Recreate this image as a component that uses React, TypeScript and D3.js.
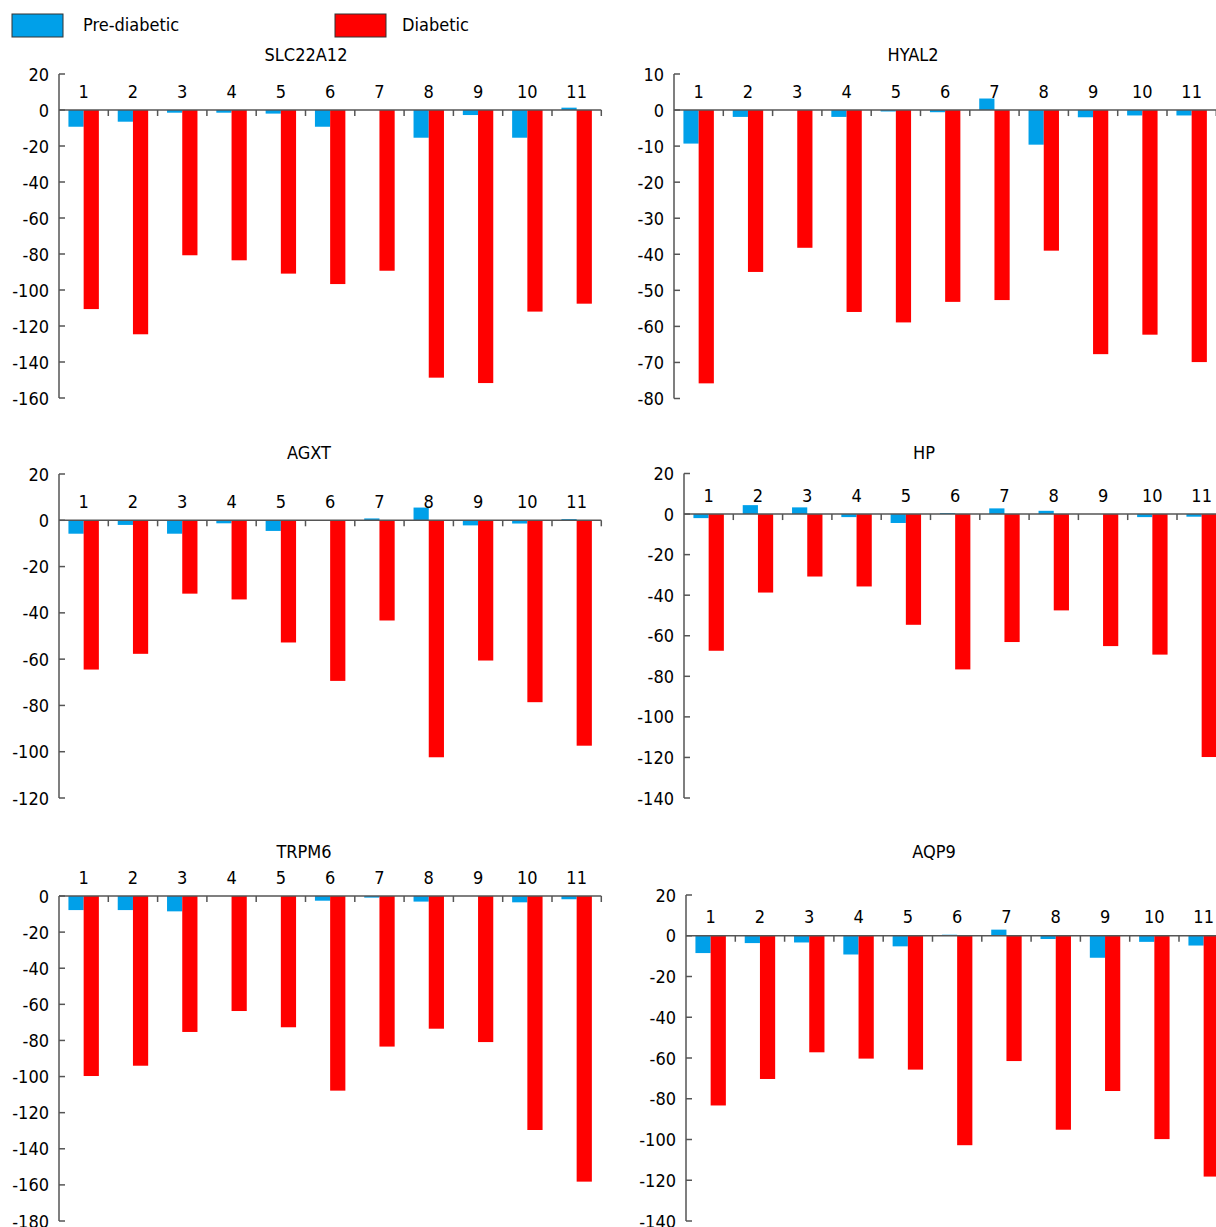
import React from 'react';
import * as d3 from 'd3';

const categories = ['1', '2', '3', '4', '5', '6', '7', '8', '9', '10', '11'];
const seriesNames = ['Pre-diabetic', 'Diabetic'];
const seriesColors = ['#00A0E9', '#FF0000'];

const slc22a12Pre = [-9.3, -6.5, -1.5, -1.5, -2, -9.3, 0, -15.4, -2.8, -15.4, 1.3];
const slc22a12Dia = [-110.6, -124.6, -80.7, -83.5, -90.9, -96.7, -89.3, -148.7, -151.7, -112, -107.6];
const slc22a12Ticks = [20, 0, -20, -40, -60, -80, -100, -120, -140, -160];

const hyal2Pre = [-9.3, -1.9, 0, -1.9, -0.4, -0.6, 3.2, -9.6, -2, -1.5, -1.5];
const hyal2Dia = [-75.8, -44.9, -38.2, -56, -58.9, -53.2, -52.7, -39, -67.7, -62.3, -69.9];
const hyal2Ticks = [10, 0, -10, -20, -30, -40, -50, -60, -70, -80];

const agxtPre = [-5.8, -2, -5.8, -1.3, -4.6, 0, 0.8, 5.5, -2.2, -1.4, 0.5];
const agxtDia = [-64.5, -57.7, -31.7, -34.2, -52.8, -69.4, -43.3, -102.4, -60.6, -78.6, -97.4];
const agxtTicks = [20, 0, -20, -40, -60, -80, -100, -120];

const hpPre = [-2, 4.4, 3.3, -1.5, -4.4, 0.5, 2.8, 1.6, 0, -1.5, -1.3];
const hpDia = [-67.4, -38.7, -30.8, -35.7, -54.6, -76.6, -63.1, -47.5, -65.1, -69.3, -119.8];
const hpTicks = [20, 0, -20, -40, -60, -80, -100, -120, -140];

const trpm6Pre = [-7.8, -7.8, -8.5, 0, 0, -2.6, -0.9, -3.1, 0, -3.5, -1.8];
const trpm6Dia = [-99.7, -94, -75.3, -63.7, -72.7, -107.8, -83.4, -73.5, -80.9, -129.6, -158.2];
const trpm6Ticks = [0, -20, -40, -60, -80, -100, -120, -140, -160, -180];

const aqp9Pre = [-8.5, -3.6, -3.3, -9.2, -5.2, 0.5, 3, -1.6, -10.8, -3, -4.8];
const aqp9Dia = [-83.3, -70.3, -57.2, -60.3, -65.7, -102.8, -61.5, -95.2, -76.2, -99.8, -118.2];
const aqp9Ticks = [20, 0, -20, -40, -60, -80, -100, -120, -140];

const panels = [
  { title: 'SLC22A12', pre: slc22a12Pre, dia: slc22a12Dia, ticks: slc22a12Ticks,
    layout: { axisX: 59, top: 74, bottom: 398, titleX: 306, titleY: 61 } },
  { title: 'HYAL2', pre: hyal2Pre, dia: hyal2Dia, ticks: hyal2Ticks,
    layout: { axisX: 674, top: 74, bottom: 398.5, titleX: 913, titleY: 61 } },
  { title: 'AGXT', pre: agxtPre, dia: agxtDia, ticks: agxtTicks,
    layout: { axisX: 59, top: 474, bottom: 798, titleX: 309, titleY: 459 } },
  { title: 'HP', pre: hpPre, dia: hpDia, ticks: hpTicks,
    layout: { axisX: 684, top: 473.5, bottom: 798, titleX: 924, titleY: 459 } },
  { title: 'TRPM6', pre: trpm6Pre, dia: trpm6Dia, ticks: trpm6Ticks,
    layout: { axisX: 59, top: 896, bottom: 1221, titleX: 304, titleY: 858 } },
  { title: 'AQP9', pre: aqp9Pre, dia: aqp9Dia, ticks: aqp9Ticks,
    layout: { axisX: 686, top: 895, bottom: 1221, titleX: 934, titleY: 858 } },
];

const STEP = 49.3;
const AXIS = '#555';
const FONT = "'DejaVu Sans Condensed', 'DejaVu Sans', sans-serif";

function Panel({ p }: { p: any }) {
  const L = p.layout;
  const ymax = d3.max(p.ticks as number[]) as number;
  const ymin = d3.min(p.ticks as number[]) as number;
  const y = d3.scaleLinear().domain([ymin, ymax]).range([L.bottom, L.top]);
  const x = d3.scaleBand().domain(categories).range([L.axisX, L.axisX + STEP * categories.length]).padding(0);
  const xs = d3.scaleBand().domain(seriesNames).range([0, x.bandwidth()]).paddingOuter(0.62).paddingInner(0);
  const zeroY = y(0);
  const xEnd = L.axisX + STEP * categories.length;
  const series = [p.pre, p.dia];
  return (
    <g>
      <text x={L.titleX} y={L.titleY} textAnchor="middle" fontSize={18}>{p.title}</text>
      {series.map((vals: number[], si: number) => (
        <g key={si}>
          {vals.map((v, i) => {
            const bx = (x(categories[i]) as number) + (xs(seriesNames[si]) as number);
            const y0 = y(Math.max(0, v));
            const y1 = y(Math.min(0, v));
            return <rect key={i} x={bx} y={y0} width={xs.bandwidth()} height={Math.max(0, y1 - y0)} fill={seriesColors[si]} />;
          })}
        </g>
      ))}
      {/* y axis */}
      <line x1={L.axisX} x2={L.axisX} y1={L.top} y2={L.bottom} stroke={AXIS} strokeWidth={1.5} />
      {p.ticks.map((t: number) => (
        <g key={t}>
          <line x1={L.axisX} x2={L.axisX + 6} y1={y(t)} y2={y(t)} stroke={AXIS} strokeWidth={1.5} />
          <text x={L.axisX - 10} y={y(t) + 6.5} textAnchor="end" fontSize={18}>{t}</text>
        </g>
      ))}
      {/* x axis at zero */}
      <line x1={L.axisX} x2={xEnd} y1={zeroY} y2={zeroY} stroke={AXIS} strokeWidth={1.5} />
      {categories.map((c, i) => {
        const bx = (x(c) as number) + x.bandwidth();
        return <line key={'t' + c} x1={bx} x2={bx} y1={zeroY} y2={zeroY + 6} stroke={AXIS} strokeWidth={1.5} />;
      })}
      {categories.map((c) => (
        <text key={'l' + c} x={(x(c) as number) + x.bandwidth() / 2} y={zeroY - 12.5} textAnchor="middle" fontSize={18}>{c}</text>
      ))}
    </g>
  );
}

export default function App() {
  return (
    <div style={{ position: 'absolute', left: 0, top: 0 }}>
      <svg width={1216} height={1227} style={{ display: 'block', fontFamily: FONT, fontStretch: 'condensed' }}>
        <rect x={0} y={0} width={1216} height={1227} fill="#fff" />
        <rect x={12} y={14} width={51} height={23} fill={seriesColors[0]} stroke="#333" strokeWidth={1} />
        <text x={83} y={31} fontSize={18}>{seriesNames[0]}</text>
        <rect x={335} y={14} width={51} height={23} fill={seriesColors[1]} stroke="#333" strokeWidth={1} />
        <text x={402} y={31} fontSize={18}>{seriesNames[1]}</text>
        {panels.map((p) => <Panel key={p.title} p={p} />)}
      </svg>
    </div>
  );
}
